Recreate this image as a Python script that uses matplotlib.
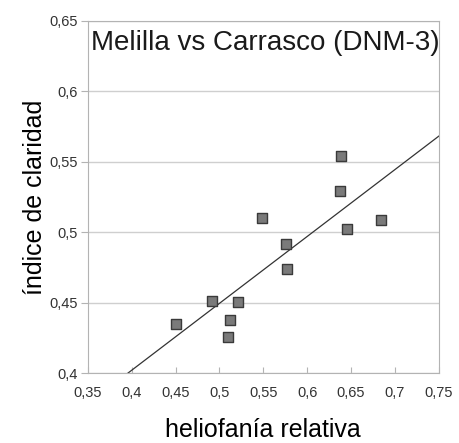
import numpy as np
import matplotlib
matplotlib.use("Agg")
import matplotlib.pyplot as plt

plt.rcParams['font.family'] = ['Liberation Sans', 'DejaVu Sans']

# heliofania relativa vs indice de claridad
helio = [0.638, 0.637, 0.5485, 0.6845, 0.645, 0.5755,
         0.5766, 0.492, 0.5214, 0.4506, 0.5115, 0.510]
claridad = [0.554, 0.529, 0.510, 0.5087, 0.502, 0.4918,
            0.4739, 0.451, 0.4506, 0.435, 0.4376, 0.4253]

xticks = [0.35, 0.4, 0.45, 0.5, 0.55, 0.6, 0.65, 0.7, 0.75]
yticks = [0.4, 0.45, 0.5, 0.55, 0.6, 0.65]

def coma(v):
    return ('%g' % v).replace('.', ',')

fig = plt.figure(figsize=(4.6, 4.43), dpi=100, facecolor='white')
ax = fig.add_axes([0.191, 0.158, 0.763, 0.795])

ax.scatter(helio, claridad, marker='s', s=42, c='#7a7a7a',
           edgecolors='#3a3a3a', linewidths=1.0, zorder=3)

# linea de tendencia (ajuste lineal)
m, b = np.polyfit(helio, claridad, 1)
xl = np.array([0.35, 0.75])
ax.plot(xl, m * xl + b, color='#333333', lw=0.9, zorder=2)

ax.set_xlim(0.35, 0.75)
ax.set_ylim(0.4, 0.65)
ax.set_xticks(xticks)
ax.set_yticks(yticks)
ax.set_xticklabels([coma(v) for v in xticks])
ax.set_yticklabels([coma(v) for v in yticks])
ax.tick_params(axis='x', direction='in', length=4, color='#b3b3b3',
               labelsize=10.5, labelcolor='#333333', pad=9)
ax.tick_params(axis='y', direction='out', length=5, color='#b3b3b3',
               labelsize=10.5, labelcolor='#333333', pad=2)
ax.grid(axis='y', color='#cfcfcf', lw=1.0)
ax.set_axisbelow(True)
for s in ax.spines.values():
    s.set_color('#b3b3b3')

ax.text(0.008, 0.975, 'Melilla vs Carrasco (DNM-3)', transform=ax.transAxes,
        ha='left', va='top', fontsize=20, color='#1a1a1a')

ax.set_xlabel('heliofanía relativa', fontsize=18, labelpad=13)
ax.set_ylabel('índice de claridad', fontsize=18, labelpad=2)

fig.savefig('out.png', dpi=100, facecolor='white')
